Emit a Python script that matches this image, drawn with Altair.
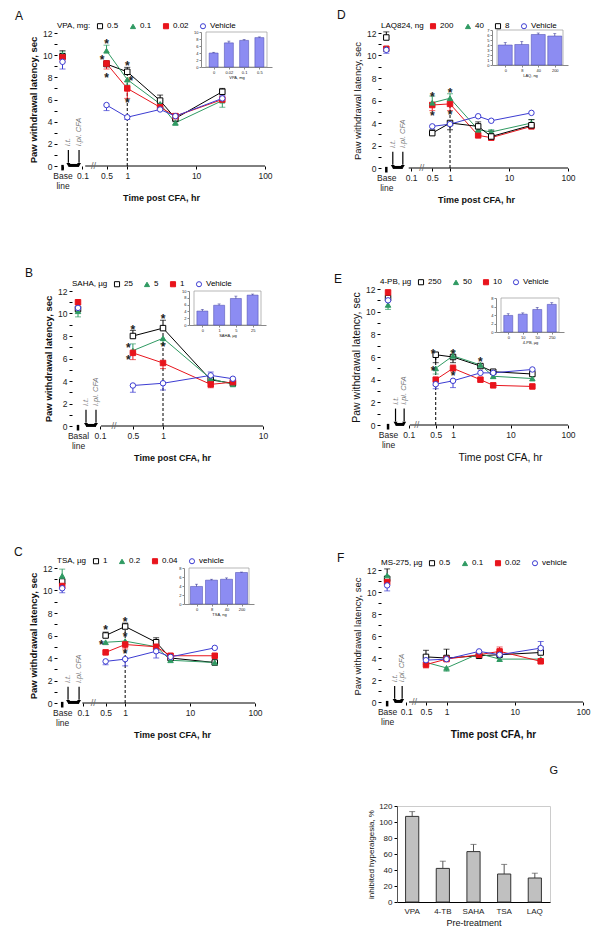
import json
import math
import altair as alt
import pandas as pd

FONT = "Liberation Sans"

# ---------------- Panel A : VPA, mg ----------------
A_labels = ["0.5", "0.1", "0.02", "Vehicle"]
A_styles = ["k", "g", "r", "b"]
A_times = [0.5, 1, 3, 5, 24]
A_k = [9.2, 8.5, 5.9, 4.3, 6.7]
A_k_err = [0.3, 0.4, 0.5, -0.3, 0.3]
A_g = [10.4, 7.8, 5.6, 3.9, 5.9]
A_g_err = [0.5, -0.5, 0.3, -0.2, -0.6]
A_r = [9.25, 7.0, 5.3, 4.5, 6.0]
A_r_err = [-0.5, -0.9, 0.3, 0.2, 0.3]
A_b = [5.5, 4.4, 5.1, 4.5, 6.1]
A_b_err = [-0.5, -0.2, 0.2, 0.2, 0.3]
A_base = [9.9, 10.0, 9.8, 9.4]
A_base_err = [0.5, 0.3, -0.4, -0.65]
A_ast_t = [0.5, 0.43, 0.5, 1, 1.13, 1]
A_ast_v = [11.3, 9.8, 8.2, 9.3, 7.9, 6.0]
A_in_cats = ["0", "0.02", "0.1", "0.5"]
A_in_vals = [4.0, 6.9, 7.6, 8.4]
A_in_errs = [0.2, 0.5, 0.3, 0.2]

# ---------------- Panel D : LAQ824, ng ----------------
D_labels = ["200", "40", "8", "Vehicle"]
D_styles = ["r", "g", "k", "b"]
D_times = [0.5, 1, 3, 5, 24]
D_r = [5.6, 5.7, 2.9, 2.7, 3.7]
D_r_err = [-0.5, -0.6, 0.0, -0.2, 0.0]
D_g = [5.8, 6.2, 3.4, 3.2, 4.0]
D_g_err = [0.6, 0.4, -0.2, 0.2, 0.3]
D_k = [3.1, 4.0, 3.7, 2.8, 3.8]
D_k_err = [0.3, -0.6, 0.4, 0.5, 0.5]
D_b = [3.7, 3.9, 4.6, 4.2, 4.9]
D_b_err = [0.0, 0.0, 0.0, 0.0, 0.0]
D_base = [10.6, 10.6, 11.6, 10.5]
D_base_err = [0.0, 0.0, 0.5, -0.3]
D_ast_t = [0.5, 0.5, 1, 1]
D_ast_v = [6.6, 4.9, 6.9, 5.0]
D_in_cats = ["0", "8", "40", "200"]
D_in_vals = [4.0, 4.1, 6.1, 5.8]
D_in_errs = [0.5, 0.6, 0.3, 0.5]

# ---------------- Panel B : SAHA, ug ----------------
B_labels = ["25", "5", "1", "Vehicle"]
B_styles = ["k", "g", "r", "b"]
B_times = [0.5, 1, 3, 5]
B_k = [8.0, 8.7, 4.1, 3.8]
B_k_err = [0.5, 0.7, 0.0, 0.0]
B_g = [6.7, 7.8, 4.2, 3.7]
B_g_err = [0.6, -0.5, 0.0, 0.0]
B_r = [6.5, 5.6, 3.7, 3.9]
B_r_err = [-0.6, -0.5, -0.3, 0.0]
B_b = [3.6, 3.8, 4.5, 4.2]
B_b_err = [-0.6, -0.6, 0.3, 0.0]
B_base = [10.4, 10.2, 11.0, 10.5]
B_base_err = [0.0, -0.5, 0.0, 0.0]
B_ast_t = [0.5, 0.45, 0.45, 1, 1]
B_ast_v = [8.8, 7.2, 6.1, 9.8, 7.3]
B_in_cats = ["0", "1", "5", "25"]
B_in_vals = [4.1, 5.8, 7.8, 8.8]
B_in_errs = [0.5, 0.4, 0.7, 0.3]

# ---------------- Panel E : 4-PB, ug ----------------
E_labels = ["250", "50", "10", "Vehicle"]
E_styles = ["k", "g", "r", "b"]
E_times = [0.5, 1, 3, 5, 24]
E_k = [6.2, 6.0, 5.2, 4.7, 4.5]
E_k_err = [-0.7, -0.5, -0.2, 0.0, 0.3]
E_g = [5.0, 6.1, 5.3, 4.3, 4.1]
E_g_err = [-0.5, 0.4, 0.0, 0.0, 0.0]
E_r = [4.0, 5.0, 4.0, 3.5, 3.4]
E_r_err = [-0.5, 0.3, 0.0, 0.0, 0.0]
E_b = [3.6, 3.9, 4.6, 4.6, 4.9]
E_b_err = [-0.4, -0.6, 0.0, 0.0, 0.0]
E_base = [11.2, 10.6, 11.7, 11.0]
E_base_err = [0.0, -0.4, 0.0, 0.0]
E_ast_t = [0.45, 0.45, 1, 1, 3]
E_ast_v = [6.5, 5.0, 6.5, 4.6, 5.8]
E_in_cats = ["0", "10", "50", "250"]
E_in_vals = [3.9, 4.2, 5.3, 6.5]
E_in_errs = [0.4, 0.3, 0.5, 0.4]

# ---------------- Panel C : TSA, ug ----------------
C_labels = ["1", "0.2", "0.04", "vehicle"]
C_styles = ["k", "g", "r", "b"]
C_times = [0.5, 1, 3, 5, 24]
C_k = [6.0, 6.8, 5.4, 4.0, 3.6]
C_k_err = [0.3, 0.3, 0.4, 0.0, 0.0]
C_g = [5.4, 5.5, 5.0, 3.8, 3.6]
C_g_err = [0.0, 0.0, 0.0, 0.0, 0.0]
C_r = [4.5, 5.2, 5.0, 4.2, 4.2]
C_r_err = [0.0, -0.4, 0.0, 0.0, 0.0]
C_b = [3.7, 3.9, 4.6, 4.1, 4.9]
C_b_err = [-0.3, -0.6, -0.6, 0.0, 0.0]
C_base = [10.8, 11.3, 10.4, 10.2]
C_base_err = [0.0, 0.6, 0.0, -0.4]
C_ast_t = [0.5, 0.43, 1, 1, 1]
C_ast_v = [6.8, 5.4, 7.5, 6.1, 4.6]
C_in_cats = ["0", "8", "40", "200"]
C_in_vals = [3.9, 5.3, 5.5, 7.0]
C_in_errs = [0.5, 0.2, 0.3, 0.1]

# ---------------- Panel F : MS-275, ug ----------------
F_labels = ["0.5", "0.1", "0.02", "vehicle"]
F_styles = ["k", "g", "r", "b"]
F_times = [0.5, 1, 3, 6, 24]
F_k = [4.1, 4.0, 4.2, 4.3, 4.5]
F_k_err = [0.6, 0.8, 0.3, 0.0, 0.5]
F_g = [3.6, 3.1, 4.4, 3.9, 3.9]
F_g_err = [-0.3, -0.3, 0.0, 0.0, 0.0]
F_r = [3.4, 3.9, 4.3, 4.6, 3.7]
F_r_err = [-0.3, 0.0, 0.0, 0.4, 0.0]
F_b = [3.8, 3.9, 4.6, 4.3, 4.9]
F_b_err = [0.0, 0.0, 0.0, 0.0, 0.6]
F_base = [11.2, 11.5, 10.9, 10.6]
F_base_err = [0.9, 0.0, 0.0, -0.5]

# ---------------- Panel G ----------------
G_names = ["VPA", "4-TB", "SAHA", "TSA", "LAQ"]
G_vals = [107, 42, 63, 35, 30]
G_errs = [6, 9, 9, 12, 6]

# ---------------- styles ----------------
COLORS = {"k": "#000000", "g": "#2f9a62", "r": "#e8141c", "b": "#3c3cd2"}
SHAPES = {"k": "square", "g": "triangle-up", "r": "square", "b": "circle"}
FILLS = {"k": "#ffffff", "g": "#2f9a62", "r": "#e8141c", "b": "#ffffff"}
INSET_BAR = "#8c8cf2"

LAY = {
    "A": dict(W=208, H=133, lo=-1.02, hi=2.0, base=-0.94, a1=-0.855, a2=-0.70, p01=-0.65, ax0=-0.61, brk=-0.49,
              ticks=[0.5, 1, 10, 100], bl=["Base", "line"], ix0=144, ix1=215, iy0=34, iy1=-1, ibw=9, iymax=10,
              iystep=2, dx=-42, toff=-1, xtx=104, ytw="bold", yts=9.5, xtw="bold", xts=9),
    "D": dict(W=187, H=135, lo=-1.17, hi=2.0, base=-1.08, a1=-0.97, a2=-0.80, p01=-0.66, ax0=-0.70, brk=-0.48,
              ticks=[0.5, 1, 10, 100], bl=["Base", "line"], ix0=111, ix1=187, iy0=32, iy1=-3, ibw=14, iymax=7,
              iystep=1, dx=-44, toff=0, xtx=95, ytw="normal", yts=9.5, xtw="bold", xts=9),
    "B": dict(W=191, H=135, lo=-0.91, hi=1.0, base=-0.85, a1=-0.77, a2=-0.67, p01=-0.63, ax0=-0.62, brk=-0.49,
              ticks=[0.5, 1, 10], bl=["Basal", "line"], ix0=117, ix1=194, iy0=34, iy1=0, ibw=11, iymax=10,
              iystep=2, dx=-47, toff=0, xtx=100, ytw="bold", yts=9.5, xtw="bold", xts=9),
    "E": dict(W=188, H=136, lo=-1.27, hi=2.0, base=-1.13, a1=-1.0, a2=-0.85, p01=-0.77, ax0=-0.75, brk=-0.63,
              ticks=[0.5, 1, 10, 100], bl=["Base", "line"], ix0=116, ix1=184, iy0=43, iy1=9, ibw=9, iymax=8,
              iystep=2, dx=-46, toff=-8, xtx=120, ytw="normal", yts=10.5, xtw="normal", xts=10.5),
    "C": dict(W=198, H=135, lo=-1.05, hi=2.0, base=-0.97, a1=-0.88, a2=-0.71, p01=-0.65, ax0=-0.66, brk=-0.49,
              ticks=[0.5, 1, 10, 100], bl=["Base", "line"], ix0=127, ix1=197, iy0=36, iy1=0, ibw=12, iymax=8,
              iystep=2, dx=-43, toff=-2, xtx=115, ytw="bold", yts=9.5, xtw="bold", xts=9),
    "F": dict(W=202, H=132, lo=-0.96, hi=2.0, base=-0.87, a1=-0.76, a2=-0.65, p01=-0.59, ax0=-0.55, brk=-0.47,
              ticks=[0.5, 1, 10, 100], bl=["Base", "line"], dx=-44, toff=-6, xtx=112, ytw="normal", yts=9.5,
              xtw="bold", xts=10),
}


def make_panel(letter, leg_title, labels, styles, times, vals, errs, base_v, base_e,
               ast_t, ast_v, dash, inset, L):
    W, H = L["W"], L["H"]
    rows = []
    for lab, sty, vs, es in zip(labels, styles, vals, errs):
        for t, v, e in zip(times, vs, es):
            rows.append({"series": lab, "kind": "time", "t": t, "v": v, "err": e, "col": COLORS[sty]})
    for lab, sty, v, e in zip(labels, styles, base_v, base_e):
        rows.append({"series": lab, "kind": "base", "t": 1.0, "v": v, "err": e, "col": COLORS[sty]})
    df = pd.DataFrame(rows)
    pos_expr = f"datum.kind == 'base' ? {L['base']} : log(datum.t) / LN10"

    tick_vals = [L["base"], L["p01"]] + [math.log10(x) for x in L["ticks"]]
    lab_expr = (f"datum.value < {(L['base'] + L['p01']) / 2} ? {json.dumps(L['bl'])} : "
                f"datum.value < {L['p01'] + 0.1} ? '0.1' : format(pow(10, datum.value), '~g')")
    xscale = alt.Scale(domain=[L["lo"], L["hi"]], nice=False, zero=False)
    xaxis = alt.Axis(values=tick_vals, labelExpr=lab_expr, title="Time post CFA, hr", domain=False,
                     tickSize=3, labelFontSize=8.5, titleFontSize=L["xts"], titleFontWeight=L["xtw"],
                     titleX=L["xtx"], labelFlush=False, labelOverlap=False, labelPadding=2, titlePadding=4,
                     labelLineHeight=10)
    yscale = alt.Scale(domain=[0, 12], nice=False)
    yaxis = alt.Axis(values=list(range(13)), labelExpr="datum.value % 2 == 0 ? datum.label : ''",
                     domain=False, tickSize=3, labelFontSize=8.5, title="Paw withdrawal latency, sec",
                     titleFontWeight=L["ytw"], titleFontSize=L["yts"], titlePadding=4, labelPadding=2)

    def X(f="pos"):
        return alt.X(f"{f}:Q", scale=xscale, axis=xaxis)

    def Y(f="v"):
        return alt.Y(f"{f}:Q", scale=yscale, axis=yaxis)

    base = alt.Chart(df).transform_calculate(pos=pos_expr, hi="datum.v + datum.err")

    lines = base.transform_filter("datum.kind == 'time'").mark_line(strokeWidth=1).encode(
        x=X(), y=Y(), stroke=alt.Stroke("col:N", scale=None), detail="series:N")
    ebars = base.transform_filter("datum.err != 0").mark_rule(strokeWidth=1).encode(
        x=X(), y=Y(), y2="hi:Q", stroke=alt.Stroke("col:N", scale=None))
    ecaps = base.transform_filter("datum.err != 0").mark_tick(orient="horizontal", size=6, thickness=1).encode(
        x=X(), y=Y("hi"), color=alt.Color("col:N", scale=None))

    leg = alt.Legend(title=leg_title, orient="top", direction="horizontal", titleOrient="left",
                     titleFontSize=8, titleFontWeight="normal", labelFontSize=8, symbolSize=26,
                     symbolStrokeWidth=1, columnPadding=9, labelOffset=3, offset=2, titlePadding=5, padding=0)
    dom = list(labels)
    points = base.mark_point(filled=True, size=30, strokeWidth=1, opacity=1).encode(
        x=X(), y=Y(),
        shape=alt.Shape("series:N", scale=alt.Scale(domain=dom, range=[SHAPES[s] for s in styles]), legend=leg),
        fill=alt.Fill("series:N", scale=alt.Scale(domain=dom, range=[FILLS[s] for s in styles]), legend=leg),
        stroke=alt.Stroke("series:N", scale=alt.Scale(domain=dom, range=[COLORS[s] for s in styles]), legend=leg),
    )

    # x axis line (after the break), break mark, baseline marker, injection arrows
    axline = alt.Chart(pd.DataFrame({"pos": [L["ax0"]], "pos2": [L["hi"]], "v": [0]})).mark_rule(
        color="#000", strokeWidth=1).encode(x=X(), x2="pos2:Q", y=Y())
    brk = alt.Chart(pd.DataFrame({"pos": [L["brk"]], "v": [0]})).mark_text(
        text="//", color="#666", fontSize=9, baseline="middle").encode(x=X(), y=Y())
    bmark = alt.Chart(pd.DataFrame({"pos": [L["base"]], "v": [0.1], "v2": [-0.4]})).mark_rule(
        color="#000", strokeWidth=2.5).encode(x=X(), y=Y(), y2="v2:Q")
    arr = pd.DataFrame({"pos": [L["a1"], L["a2"]], "v": [1.45, 1.45], "v2": [0.3, 0.3],
                        "txt": ["i.t.", "i.pl. CFA"]})
    arrows = alt.Chart(arr).mark_rule(color="#000", strokeWidth=1.2).encode(x=X(), y=Y(), y2="v2:Q")
    heads = alt.Chart(arr).mark_point(shape="triangle-down", filled=True, size=16, color="#000",
                                      opacity=1, yOffset=2).encode(x=X(), y=Y("v2"))
    hbar = alt.Chart(pd.DataFrame({"pos": [L["a1"]], "pos2": [L["a2"]], "v": [0.05]})).mark_rule(
        color="#000", strokeWidth=3).encode(x=X(), x2="pos2:Q", y=Y())
    alabels = alt.Chart(arr).mark_text(angle=270, align="left", baseline="middle", fontStyle="italic",
                                       color="#777", fontSize=7.5, yOffset=-4).encode(
        x=X(), y=Y(), text="txt:N")

    layers = [axline, brk, bmark, arrows, heads, hbar, alabels]
    if dash is not None:
        dl = alt.Chart(pd.DataFrame({"t": [dash[0]], "v": [0], "v2": [dash[1]]})).transform_calculate(
            pos="log(datum.t) / LN10").mark_rule(strokeDash=[3, 2], color="#000", strokeWidth=1).encode(
            x=X(), y=Y(), y2="v2:Q")
        layers.append(dl)
    layers += [lines, ebars, ecaps, points]
    if ast_t:
        ast = alt.Chart(pd.DataFrame({"t": ast_t, "v": ast_v})).transform_calculate(
            pos="log(datum.t) / LN10").mark_text(text="*", fontSize=12, fontWeight="bold",
                                                 baseline="middle", dy=3, color="#222").encode(x=X(), y=Y())
        layers.append(ast)
    main = alt.layer(*layers)

    title = alt.TitleParams(letter, anchor="start", frame="group", dx=L["dx"], fontSize=12,
                            fontWeight="normal", offset=L["toff"])
    if inset is None:
        return main.properties(width=W, height=H, title=title)

    cats, ivals, ierrs, ititle = inset
    idf = pd.DataFrame({"ix": list(range(len(cats))), "iv": ivals, "ie": ierrs})
    n = len(cats)
    xi_scale = alt.Scale(domain=[-0.5, n - 0.5], range=[L["ix0"], L["ix1"]], nice=False, zero=False)
    xi_axis = alt.Axis(orient="bottom", offset=-(H - L["iy0"]), values=list(range(n)),
                       labelExpr=f"{json.dumps(cats)}[datum.value]", title=ititle, titleFontSize=4,
                       titleFontWeight="normal", labelFontSize=4, tickSize=2, labelPadding=1, titlePadding=1,
                       domainColor="#888", tickColor="#888", labelFlush=False, labelOverlap=False)
    yi_scale = alt.Scale(domain=[0, L["iymax"]], range=[L["iy0"], L["iy1"]], nice=False)
    yi_axis = alt.Axis(orient="left", offset=-L["ix0"], values=list(range(0, L["iymax"] + 1, L["iystep"])),
                       labelFontSize=4, tickSize=2, labelPadding=1, title=None, domainColor="#888",
                       tickColor="#888", labelFlush=False, labelOverlap=False)

    def XI(f="ix"):
        return alt.X(f"{f}:Q", scale=xi_scale, axis=xi_axis)

    def YI(f="iv"):
        return alt.Y(f"{f}:Q", scale=yi_scale, axis=yi_axis)

    frame = alt.Chart(pd.DataFrame({"ix": [-0.5], "ix2": [n - 0.5], "iv": [0], "iv2": [L["iymax"]]})).mark_rect(
        fill="transparent", stroke="#999", strokeWidth=0.7).encode(x=XI(), x2="ix2:Q", y=YI(), y2="iv2:Q")
    ibars = alt.Chart(idf).mark_bar(size=L["ibw"], color=INSET_BAR, stroke="#4444aa", strokeWidth=0.5).encode(
        x=XI(), y=YI(), y2=alt.datum(0))
    ierr = alt.Chart(idf).transform_calculate(hi="datum.iv + datum.ie").mark_rule(
        color="#333399", strokeWidth=0.7).encode(x=XI(), y=YI(), y2="hi:Q")
    icap = alt.Chart(idf).transform_calculate(hi="datum.iv + datum.ie").mark_tick(
        orient="horizontal", size=3, thickness=0.7, color="#333399").encode(x=XI(), y=YI("hi"))
    ins = alt.layer(frame, ibars, ierr, icap)

    return alt.layer(main, ins).resolve_scale(x="independent", y="independent").properties(
        width=W, height=H, title=title)


pA = make_panel("A", "VPA, mg:", A_labels, A_styles, A_times,
                [A_k, A_g, A_r, A_b], [A_k_err, A_g_err, A_r_err, A_b_err], A_base, A_base_err,
                A_ast_t, A_ast_v, (1, 8.5), (A_in_cats, A_in_vals, A_in_errs, "VPA, mg"), LAY["A"])
pD = make_panel("D", "LAQ824, ng", D_labels, D_styles, D_times,
                [D_r, D_g, D_k, D_b], [D_r_err, D_g_err, D_k_err, D_b_err], D_base, D_base_err,
                D_ast_t, D_ast_v, (1, 6.2), (D_in_cats, D_in_vals, D_in_errs, "LAQ, ng"), LAY["D"])
pB = make_panel("B", "SAHA, µg", B_labels, B_styles, B_times,
                [B_k, B_g, B_r, B_b], [B_k_err, B_g_err, B_r_err, B_b_err], B_base, B_base_err,
                B_ast_t, B_ast_v, (1, 8.7), (B_in_cats, B_in_vals, B_in_errs, "SAHA, µg"), LAY["B"])
pE = make_panel("E", "4-PB, µg", E_labels, E_styles, E_times,
                [E_k, E_g, E_r, E_b], [E_k_err, E_g_err, E_r_err, E_b_err], E_base, E_base_err,
                E_ast_t, E_ast_v, (0.5, 6.2), (E_in_cats, E_in_vals, E_in_errs, "4-PB, µg"), LAY["E"])
pC = make_panel("C", "TSA, µg", C_labels, C_styles, C_times,
                [C_k, C_g, C_r, C_b], [C_k_err, C_g_err, C_r_err, C_b_err], C_base, C_base_err,
                C_ast_t, C_ast_v, (1, 7.0), (C_in_cats, C_in_vals, C_in_errs, "TSA, ng"), LAY["C"])
pF = make_panel("F", "MS-275, µg", F_labels, F_styles, F_times,
                [F_k, F_g, F_r, F_b], [F_k_err, F_g_err, F_r_err, F_b_err], F_base, F_base_err,
                [], [], None, None, LAY["F"])

# ---------------- Panel G ----------------
gdf = pd.DataFrame({"name": G_names, "v": G_vals, "e": G_errs})
gx = alt.X("name:N", sort=None, scale=alt.Scale(paddingInner=0.57, paddingOuter=0.28),
           axis=alt.Axis(title="Pre-treatment", labelAngle=0, labelFontSize=8, titleFontSize=9,
                         titleFontWeight="normal", ticks=False, labelPadding=5, titlePadding=3))
gy_scale = alt.Scale(domain=[0, 120], nice=False)
gy_axis = alt.Axis(values=[0, 20, 40, 60, 80, 100, 120], title="inhibited hyperalgesia, %", labelFontSize=8,
                   titleFontSize=8, titleFontWeight="normal", tickSize=3, titlePadding=3, domainColor="#555")
gbars = alt.Chart(gdf).mark_bar(color="#c0c0c0", stroke="#333", strokeWidth=1).encode(
    x=gx, y=alt.Y("v:Q", scale=gy_scale, axis=gy_axis))
gerr = alt.Chart(gdf).transform_calculate(hi="datum.v + datum.e").mark_rule(color="#555").encode(
    x=gx, y=alt.Y("v:Q", scale=gy_scale, axis=gy_axis), y2="hi:Q")
gcap = alt.Chart(gdf).transform_calculate(hi="datum.v + datum.e").mark_tick(
    orient="horizontal", size=6, thickness=1, color="#555").encode(
    x=gx, y=alt.Y("hi:Q", scale=gy_scale, axis=gy_axis))
pG = alt.layer(gerr, gcap, gbars).properties(
    width=153, height=96,
    title=alt.TitleParams("G", anchor="end", frame="group", dx=8, offset=26, fontSize=11, fontWeight="normal"),
    view=alt.ViewBackground(stroke="#cccccc", strokeWidth=1))

spacer = alt.Chart(pd.DataFrame({"a": [0.0]})).mark_point(opacity=0, size=1).encode(
    x=alt.X("a:Q", axis=None), y=alt.Y("a:Q", axis=None)).properties(width=1, height=1)

IND = dict(shape="independent", fill="independent", stroke="independent", color="independent")


def wrap(panel, s):
    return alt.hconcat(spacer, panel, spacing=s).resolve_scale(**IND)


left = alt.vconcat(
    alt.vconcat(wrap(pA, 4), wrap(pB, 14), spacing=64).resolve_scale(**IND),
    wrap(pC, 3), spacing=83).resolve_scale(**IND)
right = alt.vconcat(
    alt.vconcat(
        alt.vconcat(wrap(pD, 53), wrap(pE, 50), spacing=68).resolve_scale(**IND),
        wrap(pF, 53), spacing=89).resolve_scale(**IND),
    wrap(pG, 83), spacing=24).resolve_scale(**IND)

chart = alt.hconcat(left, right, spacing=10).resolve_scale(**IND).properties(
    padding={"left": 2, "top": 1, "right": 0, "bottom": 0})

chart = chart.configure(font=FONT).configure_axis(
    labelFont=FONT, titleFont=FONT, labelColor="#222", titleColor="#111", grid=False,
    domainColor="#000", tickColor="#000").configure_legend(
    labelFont=FONT, titleFont=FONT).configure_title(font=FONT, color="#111").configure_view(strokeWidth=0)

chart.save("out.html", embed_options={"renderer": "svg", "actions": False})
